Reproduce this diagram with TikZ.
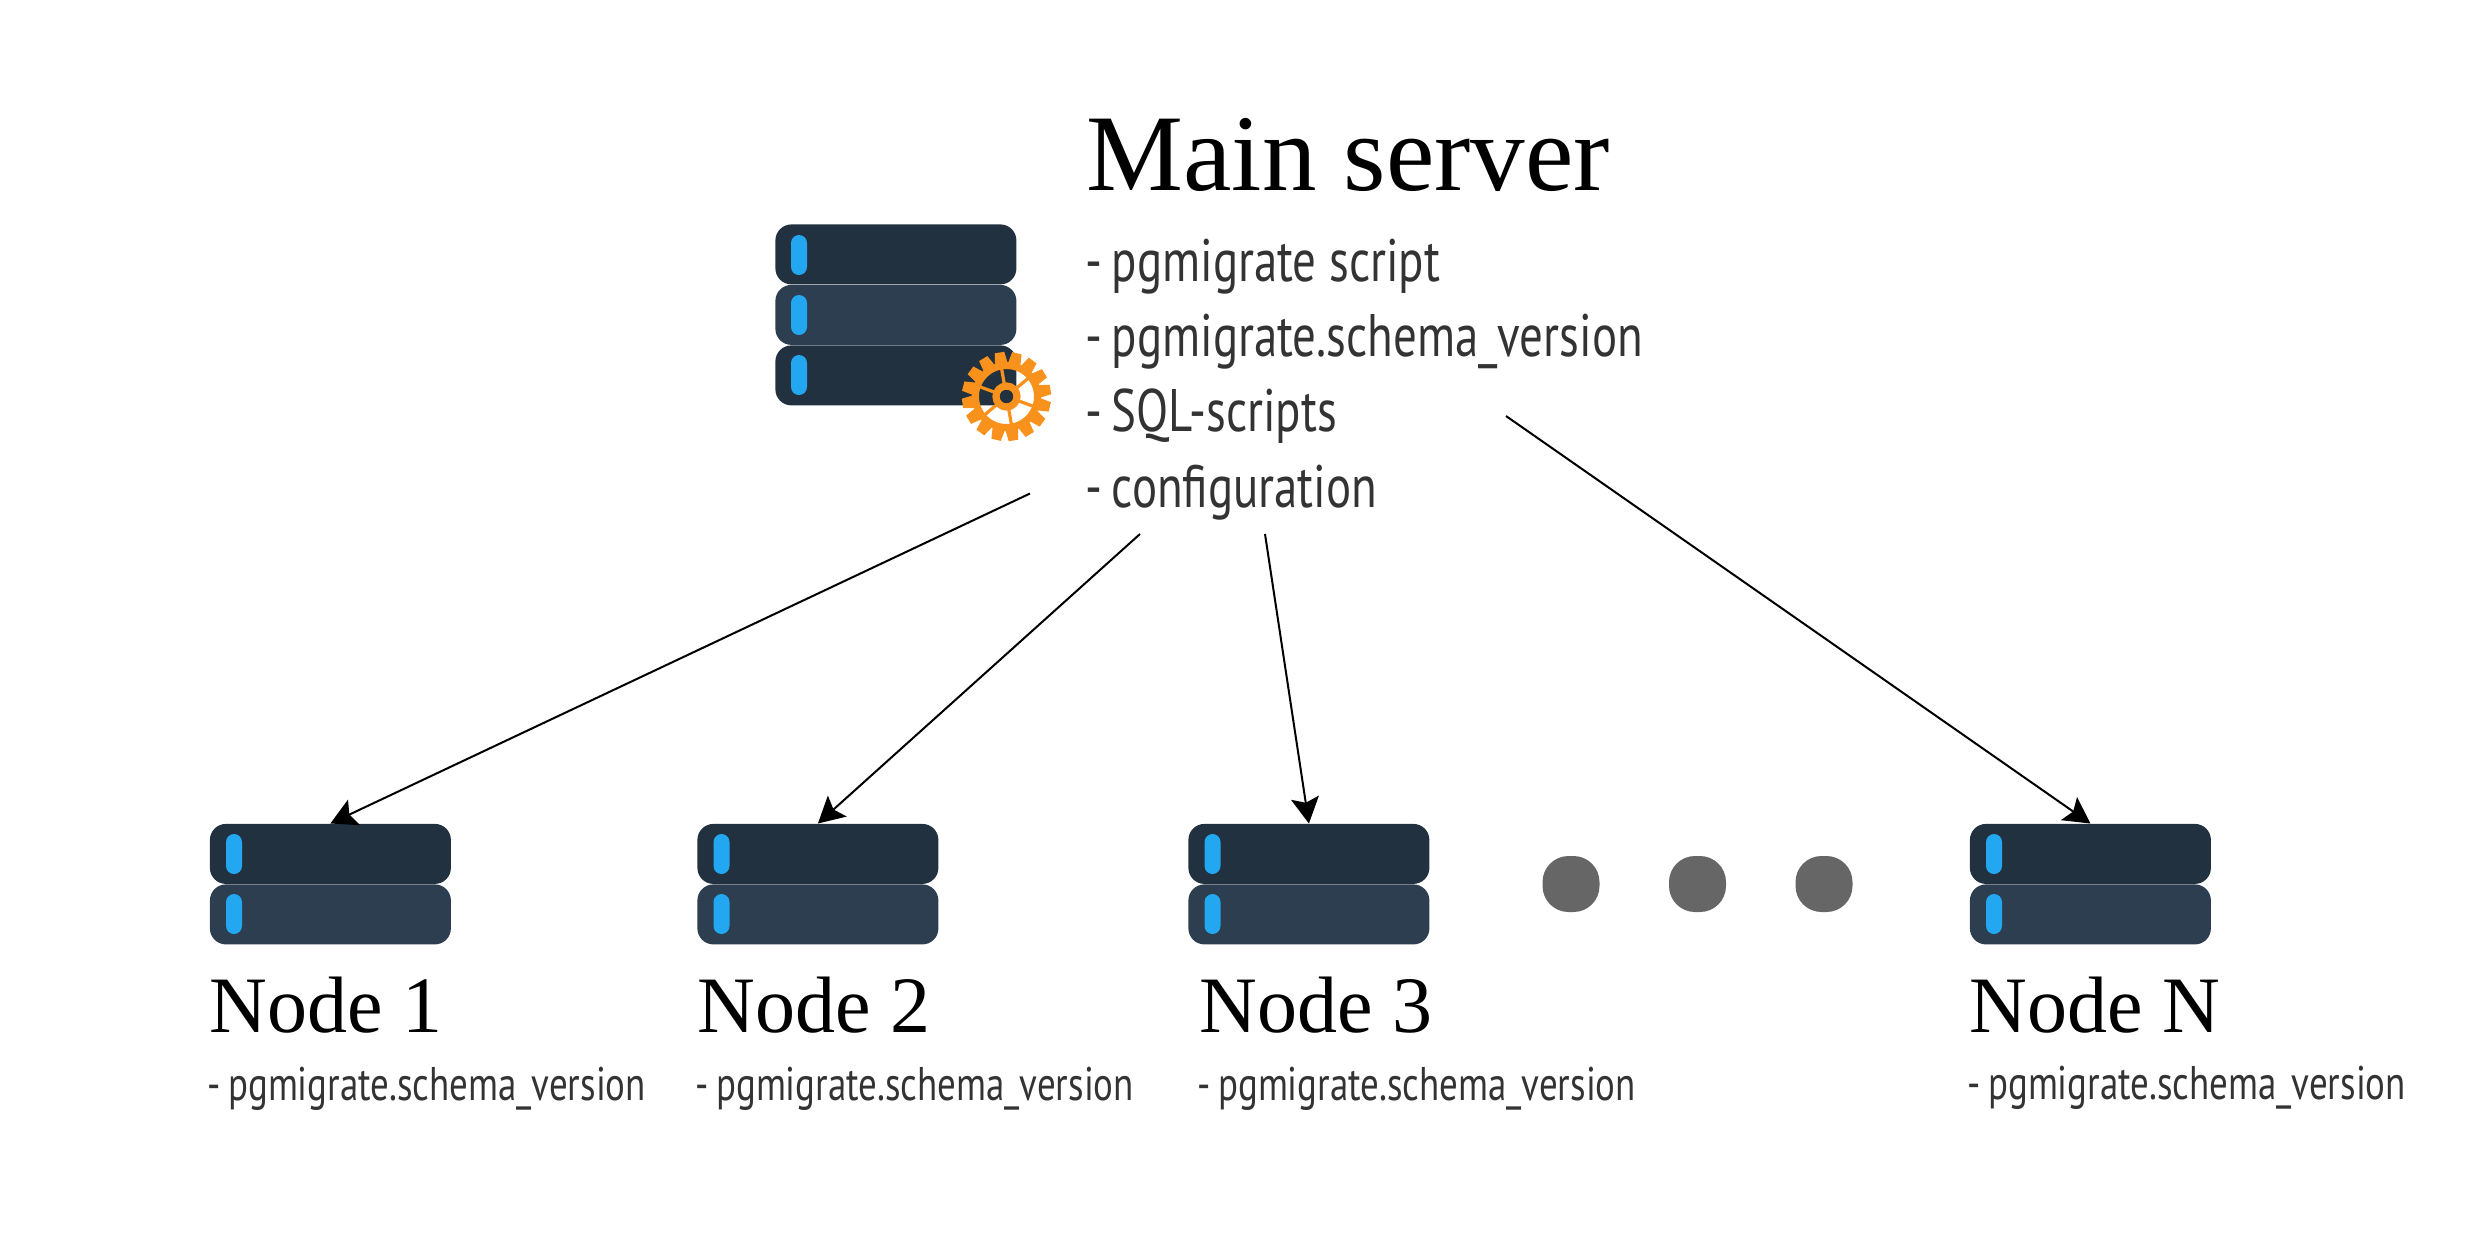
\documentclass[tikz,border=0pt]{standalone}
\usepackage{fontspec}
\usetikzlibrary{arrows.meta}
\setmainfont{Liberation Serif}
\newfontfamily\titlefont{Liberation Serif}
\newfontfamily\bodyfont[FakeStretch=0.782]{PT Sans}
\newcommand{\dashgap}{-\hspace{0.16em}}
\definecolor{srvdark}{HTML}{22313F}
\definecolor{srvlight}{HTML}{2C3E50}
\definecolor{srvled}{HTML}{22A7F0}
\definecolor{gearor}{HTML}{F9921C}
\definecolor{txtdark}{HTML}{333333}
\definecolor{dotgrey}{HTML}{666666}
\tikzset{
  rowdark/.style={draw=none,fill=srvdark,rounded corners=8pt,minimum width=120.5pt,minimum height=30pt,inner sep=0pt,anchor=north west},
  rowlight/.style={rowdark,fill=srvlight},
  led/.style={draw=none,fill=srvled,rounded corners=4pt,minimum width=8pt,minimum height=20pt,inner sep=0pt},
  bigtitle/.style={anchor=base west,inner sep=0pt,text=black,font=\titlefont\fontsize{54.5}{60}\selectfont},
  nodetitle/.style={anchor=base west,inner sep=0pt,text=black,font=\titlefont\fontsize{40}{44}\selectfont},
  mainitem/.style={anchor=base west,inner sep=0pt,text=txtdark,font=\bodyfont\fontsize{30}{34}\selectfont},
  subitem/.style={anchor=base west,inner sep=0pt,text=txtdark,font=\bodyfont\fontsize{23.6}{27}\selectfont},
  link/.style={draw=black,line width=1pt,-{Stealth[length=13pt,width=14pt,inset=2.5pt]}},
  dotmark/.style={draw=none,fill=dotgrey,rounded corners=13pt,minimum width=28.5pt,minimum height=28pt,inner sep=0pt},
  tooth/.style={fill=gearor,draw=none},
}
\begin{document}
\begin{tikzpicture}[x=0.5pt,y=-0.5pt]
\useasboundingbox (0,0) rectangle (2481,1250);
% main server
\node[rowdark] (m1) at (775,224) {};
\node[rowlight] (m2) at (775,284.5) {};
\node[rowdark] (m3) at (775,345) {};
\node[led] (m1led) at (799,255) {};
\node[led] (m2led) at (799,315) {};
\node[led] (m3led) at (799,375) {};
% gear
\begin{scope}[shift={(1006.5,396.5)}]
  \foreach \a in {0,22.5,...,337.5}{
    \fill[tooth,rotate=\a+9] (-6.5,-32) -- (-4.8,-44.5) -- (4.8,-44.5) -- (6.5,-32) -- cycle;
  }
  \draw[gearor,line width=3.5pt] (0,0) circle (31);
  \draw[gearor,line width=3.6pt] (0,0) circle (10.5);
  \foreach \a in {10,70,130,190,250,310}{
    \draw[gearor,line width=1.6pt,rotate=\a] (0,-12) -- (0,-28);
  }
  \fill[srvdark] (0,0) circle (6.5);
\end{scope}
% nodes
\node[rowdark] (a1) at (209.5,823.5) {};
\node[rowlight] (a2) at (209.5,884) {};
\node[led] (a1led) at (234,854) {};
\node[led] (a2led) at (234,914) {};
\node[rowdark] (b1) at (697,823.5) {};
\node[rowlight] (b2) at (697,884) {};
\node[led] (b1led) at (721.5,854) {};
\node[led] (b2led) at (721.5,914) {};
\node[rowdark] (c1) at (1188,823.5) {};
\node[rowlight] (c2) at (1188,884) {};
\node[led] (c1led) at (1212.5,854) {};
\node[led] (c2led) at (1212.5,914) {};
\node[rowdark] (d1) at (1969.5,823.5) {};
\node[rowlight] (d2) at (1969.5,884) {};
\node[led] (d1led) at (1994,854) {};
\node[led] (d2led) at (1994,914) {};
% dots
\node[dotmark] (dot1) at (1571,884) {};
\node[dotmark] (dot2) at (1697.5,884) {};
\node[dotmark] (dot3) at (1824,884) {};
% text
\node[bigtitle] (title) at (1086,190) {Main server};
\node[mainitem] (t1) at (1085,281) {\dashgap pgmigrate script};
\node[mainitem] (t2) at (1085,356) {\dashgap pgmigrate.schema\_version};
\node[mainitem] (t3) at (1085,431) {\dashgap SQL-scripts};
\node[mainitem] (t4) at (1085,507) {\dashgap configuration};
\node[nodetitle] (na) at (209,1032) {Node 1};
\node[nodetitle] (nb) at (697,1032) {Node 2};
\node[nodetitle] (nc) at (1199,1032) {Node 3};
\node[nodetitle] (nd) at (1969,1032) {Node N};
\node[subitem] (sa) at (207,1100.5) {\dashgap pgmigrate.schema\_version};
\node[subitem] (sb) at (695,1100.5) {\dashgap pgmigrate.schema\_version};
\node[subitem] (sc) at (1197,1100.5) {\dashgap pgmigrate.schema\_version};
\node[subitem] (sd) at (1967,1099.5) {\dashgap pgmigrate.schema\_version};
% connectors
\coordinate (fa) at (1030,493.5);
\coordinate (fb) at (1140,534);
\coordinate (fc) at (1265,534);
\coordinate (fd) at (1506,416);
\draw[link] (fa) -- (a1.north);
\draw[link] (fb) -- (b1.north);
\draw[link] (fc) -- (c1.north);
\draw[link] (fd) -- (d1.north);
\end{tikzpicture}
\end{document}
